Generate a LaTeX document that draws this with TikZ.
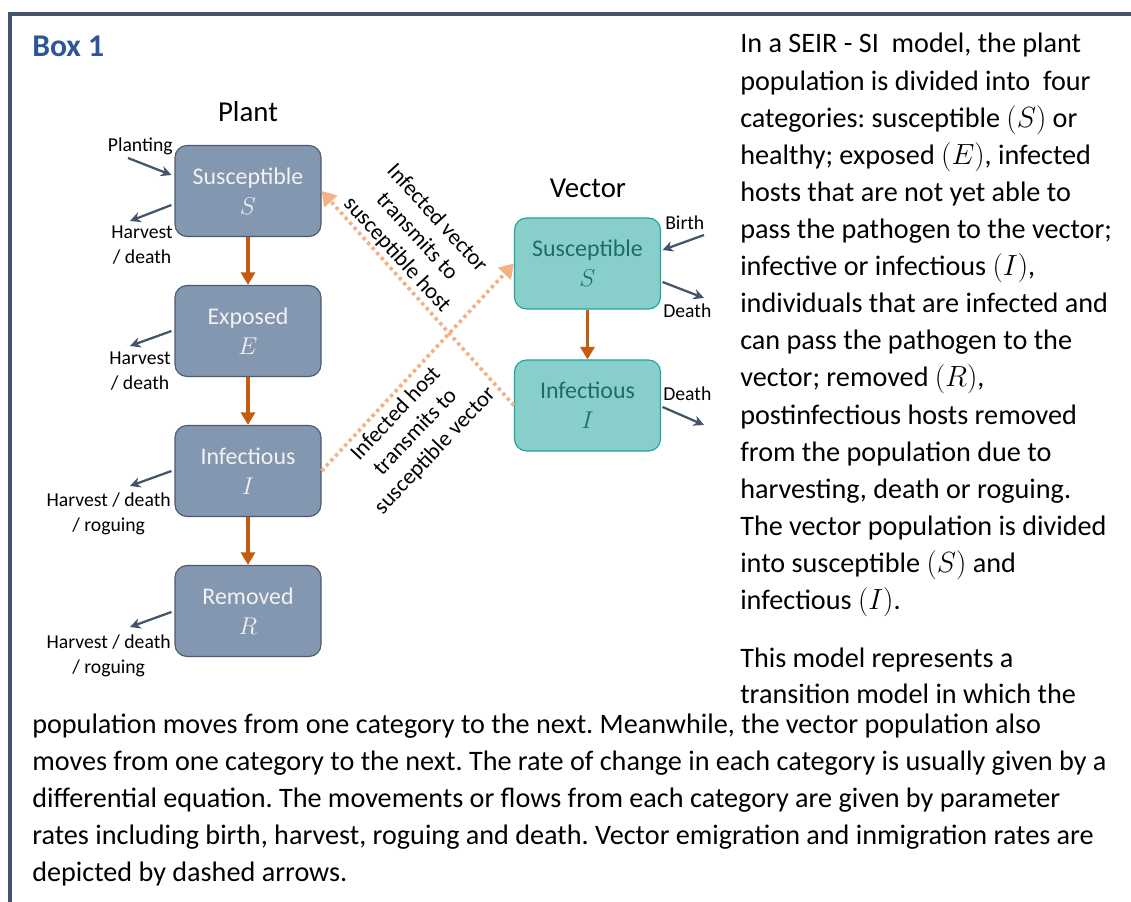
\documentclass[tikz,border=0pt]{standalone}
\usepackage{amsmath,amssymb}
\usepackage{fontspec}
\setmainfont{Carlito}
\usepackage{tikz}
\usetikzlibrary{arrows.meta}
\frenchspacing

\definecolor{framecol}{HTML}{44546A}
\definecolor{boxblue}{HTML}{2F5597}
\definecolor{plantfill}{HTML}{8497B0}
\definecolor{plantline}{HTML}{4A5A70}
\definecolor{vecfill}{HTML}{88CFCB}
\definecolor{vecline}{HTML}{1FA39B}
\definecolor{vectext}{HTML}{1B6D69}
\definecolor{floworange}{HTML}{C55A11}
\definecolor{peach}{HTML}{F4B183}

\tikzset{
  plantbox/.style={draw=plantline,fill=plantfill,line width=0.8pt,rounded corners=0.3cm,
    minimum width=3.65cm,minimum height=2.275cm,inner sep=0pt,align=center,
    text=white!95!black,font=\fontsize{17pt}{21.3pt}\selectfont},
  vecbox/.style={plantbox,draw=vecline,fill=vecfill,text=vectext},
  flowarr/.style={draw=floworange,line width=2.8pt,-{Triangle[length=9pt,width=10pt]}},
  sidearr/.style={draw=framecol,line width=1.6pt,-{Stealth[length=7.5pt,width=7.5pt]}},
  infarr/.style={draw=peach,line width=2.6pt,dash pattern=on 2.4pt off 2.4pt,
    -{Triangle[length=10pt,width=12pt]}},
  sidelab/.style={inner sep=0pt,align=center,font=\fontsize{14pt}{17.8pt}\selectfont},
  rotlab/.style={inner sep=0pt,align=center,font=\fontsize{16pt}{19.2pt}\selectfont},
  title/.style={inner sep=0pt,anchor=base,font=\fontsize{20.5pt}{24pt}\selectfont},
  bodytxt/.style={inner sep=0pt,anchor=base west,font=\fontsize{20.05pt}{26.4pt}\selectfont}
}

\begin{document}
\begin{tikzpicture}
  \useasboundingbox (0,0) rectangle (28.275,-22.55);
  % frame
  \draw[framecol,line width=2.6pt] (28.275,-0.35) -- (0.25,-0.35) -- (0.25,-22.55);
  \node[inner sep=0pt,anchor=base west,text=boxblue,font=\fontsize{22.5pt}{26pt}\selectfont\bfseries] (boxtitle) at (0.8,-1.425) {Box 1};

  % plant compartments
  \node[title] (plant) at (6.2,-3.05) {Plant};
  \node[plantbox] (pS) at (6.2,-4.775) {Susceptible\\$S$};
  \node[plantbox] (pE) at (6.2,-8.275) {Exposed\\$E$};
  \node[plantbox] (pI) at (6.2,-11.775) {Infectious\\$I$};
  \node[plantbox] (pR) at (6.2,-15.275) {Removed\\$R$};
  \draw[flowarr] (pS.south) -- (pE.north);
  \draw[flowarr] (pE.south) -- (pI.north);
  \draw[flowarr] (pI.south) -- (pR.north);

  % vector compartments
  \node[title] (vector) at (14.7,-4.95) {Vector};
  \node[vecbox] (vS) at (14.6875,-6.5875) {Susceptible\\$S$};
  \node[vecbox] (vI) at (14.6875,-10.1375) {Infectious\\$I$};
  \draw[flowarr] (vS.south) -- (vI.north);

  % transmission
  \draw[infarr] (pI.east) -- (vS.west);
  \draw[infarr] (vI.west) -- (pS.east);
  \node[rotlab,rotate=-47.7] (vtoh) at (10.42,-5.92) {Infected vector\\transmits to\\susceptible host};
  \node[rotlab,rotate=46.6] (htov) at (10.39,-10.81) {Infected host\\transmits to\\susceptible vector};

  % plant in/out flows
  \coordinate (plantin) at (3.2,-3.95);
  \coordinate (hS) at (3.25,-5.525);
  \coordinate (hE) at (3.25,-8.65);
  \coordinate (hI) at (3.25,-12.15);
  \coordinate (hR) at (3.25,-15.675);
  \draw[sidearr] (plantin) -- ([shift={(-0.075,0.4)}]pS.west);
  \draw[sidearr] ([shift={(-0.075,-0.35)}]pS.west) -- (hS);
  \draw[sidearr] ([xshift=-0.075cm]pE.west) -- (hE);
  \draw[sidearr] ([xshift=-0.075cm]pI.west) -- (hI);
  \draw[sidearr] ([shift={(-0.075,-0.025)}]pR.west) -- (hR);
  \node[sidelab,anchor=base east] (lplant) at (4.325,-3.8) {Planting};
  \node[sidelab,anchor=north east] (lhS) at (4.325,-5.65) {Harvest\\/ death};
  \node[sidelab,anchor=north east] (lhE) at (4.275,-8.8) {Harvest\\/ death};
  \node[sidelab,anchor=north east] (lhI) at (4.275,-12.325) {Harvest / death\\/ roguing};
  \node[sidelab,anchor=north east] (lhR) at (4.275,-15.875) {Harvest / death\\/ roguing};

  % vector in/out flows
  \coordinate (birth) at (17.6,-5.875);
  \coordinate (dS) at (17.6,-7.45);
  \coordinate (dI) at (17.6,-10.625);
  \draw[sidearr] (birth) -- ([shift={(0.0375,0.3375)}]vS.east);
  \draw[sidearr] ([shift={(0.0375,-0.4625)}]vS.east) -- (dS);
  \draw[sidearr] ([shift={(0.0375,-0.0375)}]vI.east) -- (dI);
  \node[sidelab,anchor=base west] (lbirth) at (16.625,-5.75) {Birth};
  \node[sidelab,anchor=base west] (ldS) at (16.575,-7.925) {Death};
  \node[sidelab,anchor=base west] (ldI) at (16.575,-10.0) {Death};

  % text
  \foreach \ln [count=\k] in {{In a SEIR - SI\ \ model, the plant},
      {population is divided into\ \ four},
      {categories: susceptible $(S)$ or},
      {healthy; exposed $(E)$, infected},
      {hosts that are not yet able to},
      {pass the pathogen to the vector;},
      {infective or infectious $(I)$,},
      {individuals that are infected and},
      {can pass the pathogen to the},
      {vector; removed $(R)$,},
      {postinfectious hosts removed},
      {from the population due to},
      {harvesting, death or roguing.},
      {The vector population is divided},
      {into susceptible $(S)$ and},
      {infectious $(I)$.}}
    \node[bodytxt] (r\k) at (18.5,{-(53+37.1*(\k-1))/40}) {\ln};
  \node[bodytxt] (r17) at (18.5,-16.675) {This model represents a};
  \node[bodytxt] (r18) at (18.5,-17.575) {transition model in which the};
  \foreach \ln [count=\k] in {{population moves from one category to the next. Meanwhile, the vector population also},
      {moves from one category to the next. The rate of change in each category is usually given by a},
      {differential equation. The movements or flows from each category are given by parameter},
      {rates including birth, harvest, roguing and death. Vector emigration and inmigration rates are},
      {depicted by dashed arrows.}}
    \node[bodytxt] (b\k) at (0.8,{-(733+37.2*(\k-1))/40}) {\ln};
\end{tikzpicture}
\end{document}
